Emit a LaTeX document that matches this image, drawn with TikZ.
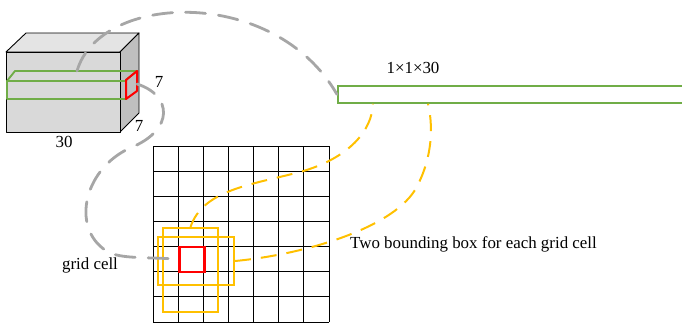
\documentclass[tikz,border=0pt]{standalone}
\usepackage{fontspec}
\setmainfont{Liberation Serif}
\definecolor{cgreen}{HTML}{70AD47}
\definecolor{corange}{HTML}{FFC000}
\definecolor{cred}{HTML}{FF0000}
\definecolor{cgray}{HTML}{A6A6A6}
\definecolor{cfront}{HTML}{D9D9D9}
\definecolor{ctop}{HTML}{E4E4E4}
\definecolor{cside}{HTML}{BFBFBF}
\begin{document}
\begin{tikzpicture}[x=1pt,y=-1pt,
  lbl/.style={inner sep=0pt,font=\fontsize{16.9}{18}\selectfont},
  face/.style={draw=black,line width=0.9pt,line join=round},
  graylink/.style={draw=cgray,line width=2.8pt,dash pattern=on 20pt off 13pt,line cap=round},
  orangelink/.style={draw=corange,line width=2pt,dash pattern=on 16pt off 10pt},
  obox/.style={draw=corange,line width=2pt,inner sep=0pt,minimum width=#1},
  greenline/.style={draw=cgreen,line width=1.8pt,line join=round}
]
\useasboundingbox (0,0) rectangle (682,324);
% cube
\filldraw[face,fill=ctop] (6,52) -- (26,33) -- (139,33) -- (120,52) -- cycle;
\filldraw[face,fill=cside] (120,52) -- (139,33) -- (139,113) -- (120,132) -- cycle;
\filldraw[face,fill=cfront] (6,52) rectangle (120,132);
% green bar in cube
\draw[greenline] (7,81) -- (15,71) -- (137,71) -- (126,80);
\draw[greenline] (7,81) rectangle (126,99);
\draw[draw=cred,line width=2pt,line join=round] (126,80) -- (137,71) -- (137,91) -- (126,99) -- cycle;
\coordinate (bartop) at (77,71);
\coordinate (redface) at (137,84);
% labels of cube
\node[lbl] (l7a) at (159,82) {7};
\node[lbl] (l7b) at (139,126) {7};
\node[lbl] (l30) at (64,142) {30};
% long vector
\node[draw=cgreen,line width=1.8pt,minimum width=345pt,minimum height=17pt,inner sep=0pt,anchor=north west] (vec) at (337,85) {};
\node[lbl] (vlab) at (413,68) {1×1×30};
% grid
\foreach \i in {0,...,7}{
  \draw[black,line width=0.8pt] (153+25.14*\i,146) -- (153+25.14*\i,322);
  \draw[black,line width=0.8pt] (153,146+25.14*\i) -- (329,146+25.14*\i);
}
% orange boxes
\node[obox=55pt,minimum height=84pt,anchor=north west] (tallbox) at (162,227) {};
\node[obox=76pt,minimum height=48pt,anchor=north west] (widebox) at (157,236) {};
% red cell
\node[draw=cred,line width=2.5pt,minimum width=25pt,minimum height=25pt,inner sep=0pt,anchor=north west] (cell) at (178,245.5) {};
% texts
\node[lbl,anchor=west] (tbb) at (350,244) {Two bounding box for each grid cell};
\node[lbl] (tgc) at (90,265) {grid cell};
% gray connectors
\draw[graylink] (bartop) .. controls (100,-8) and (275,-14) .. (vec.west);
\draw[graylink] (redface) .. controls (172,95) and (175,130) .. (130,148)
  .. controls (82,170) and (70,232) .. (110,253)
  .. controls (125,259) and (150,257) .. (cell.west);
% orange connectors
\draw[orangelink] (tallbox.north) .. controls (203,190) and (250,185) .. (300,172)
  .. controls (350,158) and (372,130) .. ([xshift=36pt]vec.south west);
\draw[orangelink] (widebox.east) .. controls (300,255) and (390,230) .. (415,190)
  .. controls (435,155) and (432,120) .. ([xshift=91pt]vec.south west);
\end{tikzpicture}
\end{document}
